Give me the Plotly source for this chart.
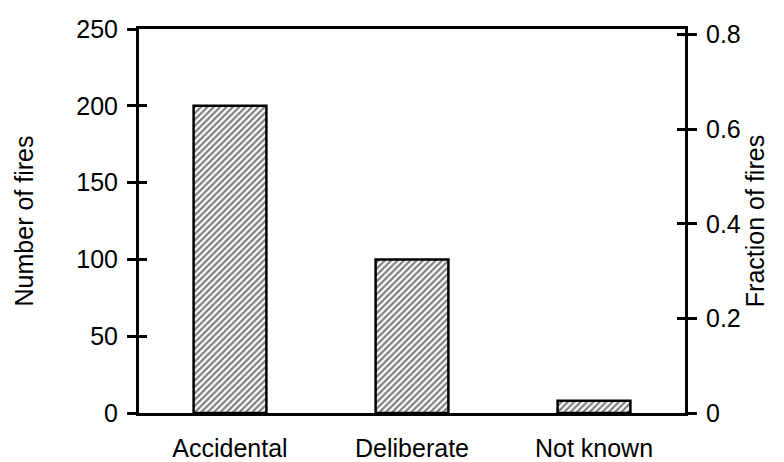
import plotly.graph_objects as go

causes = ["Accidental", "Deliberate", "Not known"]
num_fires = [200, 100, 8]
left_ticks = [0, 50, 100, 150, 200, 250]
right_ticks = [0, 0.2, 0.4, 0.6, 0.8]

total = sum(num_fires)
fractions = [n / total for n in num_fires]
left_max = 250
right_max = left_max / total

font = dict(family="Liberation Sans, Arial, sans-serif", size=25, color="black")

fig = go.Figure()
fig.add_trace(go.Bar(
    x=causes, y=num_fires, width=0.4,
    marker=dict(color="white", line=dict(color="black", width=2.5),
                pattern=dict(shape="/", size=4.5, solidity=0.5,
                             fgcolor="black", bgcolor="white")),
    hoverinfo="skip", showlegend=False))
# invisible helpers so the extra axes get drawn
fig.add_trace(go.Scatter(x=causes, y=fractions, yaxis="y2", mode="markers",
                         marker=dict(opacity=0), hoverinfo="skip", showlegend=False))
fig.add_trace(go.Scatter(x=causes, y=num_fires, yaxis="y3", mode="markers",
                         marker=dict(opacity=0), hoverinfo="skip", showlegend=False))
fig.add_trace(go.Scatter(x=causes, y=fractions, yaxis="y4", mode="markers",
                         marker=dict(opacity=0), hoverinfo="skip", showlegend=False))

fig.update_layout(
    width=784, height=462,
    margin=dict(l=131, r=107, t=21, b=57, autoexpand=False),
    paper_bgcolor="white", plot_bgcolor="white",
    font=font,
    showlegend=False,
    xaxis=dict(showline=True, linecolor="black", linewidth=3, mirror=True,
               ticks="", showgrid=False, zeroline=False, automargin=False,
               ticklabelstandoff=11, tickfont=font),
    yaxis=dict(range=[0, left_max], tickvals=left_ticks, showline=True,
               linecolor="black", linewidth=3, ticks="outside", ticklen=9,
               tickwidth=2.5, tickcolor="black", showgrid=False, zeroline=False,
               automargin=False,
               title=dict(text="Number of fires", font=font, standoff=36),
               tickfont=font, ticklabelstandoff=4),
    yaxis2=dict(range=[0, right_max], tickvals=right_ticks, overlaying="y",
                side="right", showline=True, linecolor="black", linewidth=3,
                ticks="outside", ticklen=9, tickwidth=2.5, tickcolor="black",
                showgrid=False, zeroline=False, automargin=False,
                title=dict(text="Fraction of fires", font=font, standoff=7),
                tickfont=font, ticklabelstandoff=4),
    yaxis3=dict(range=[0, left_max], tickvals=left_ticks, overlaying="y",
                side="left", ticks="inside", ticklen=8, tickwidth=2.5,
                tickcolor="black", showticklabels=False, showgrid=False,
                zeroline=False, showline=False),
    yaxis4=dict(range=[0, right_max], tickvals=right_ticks, overlaying="y",
                side="right", ticks="inside", ticklen=8, tickwidth=2.5,
                tickcolor="black", showticklabels=False, showgrid=False,
                zeroline=False, showline=False),
)

fig.write_html("out.html")
